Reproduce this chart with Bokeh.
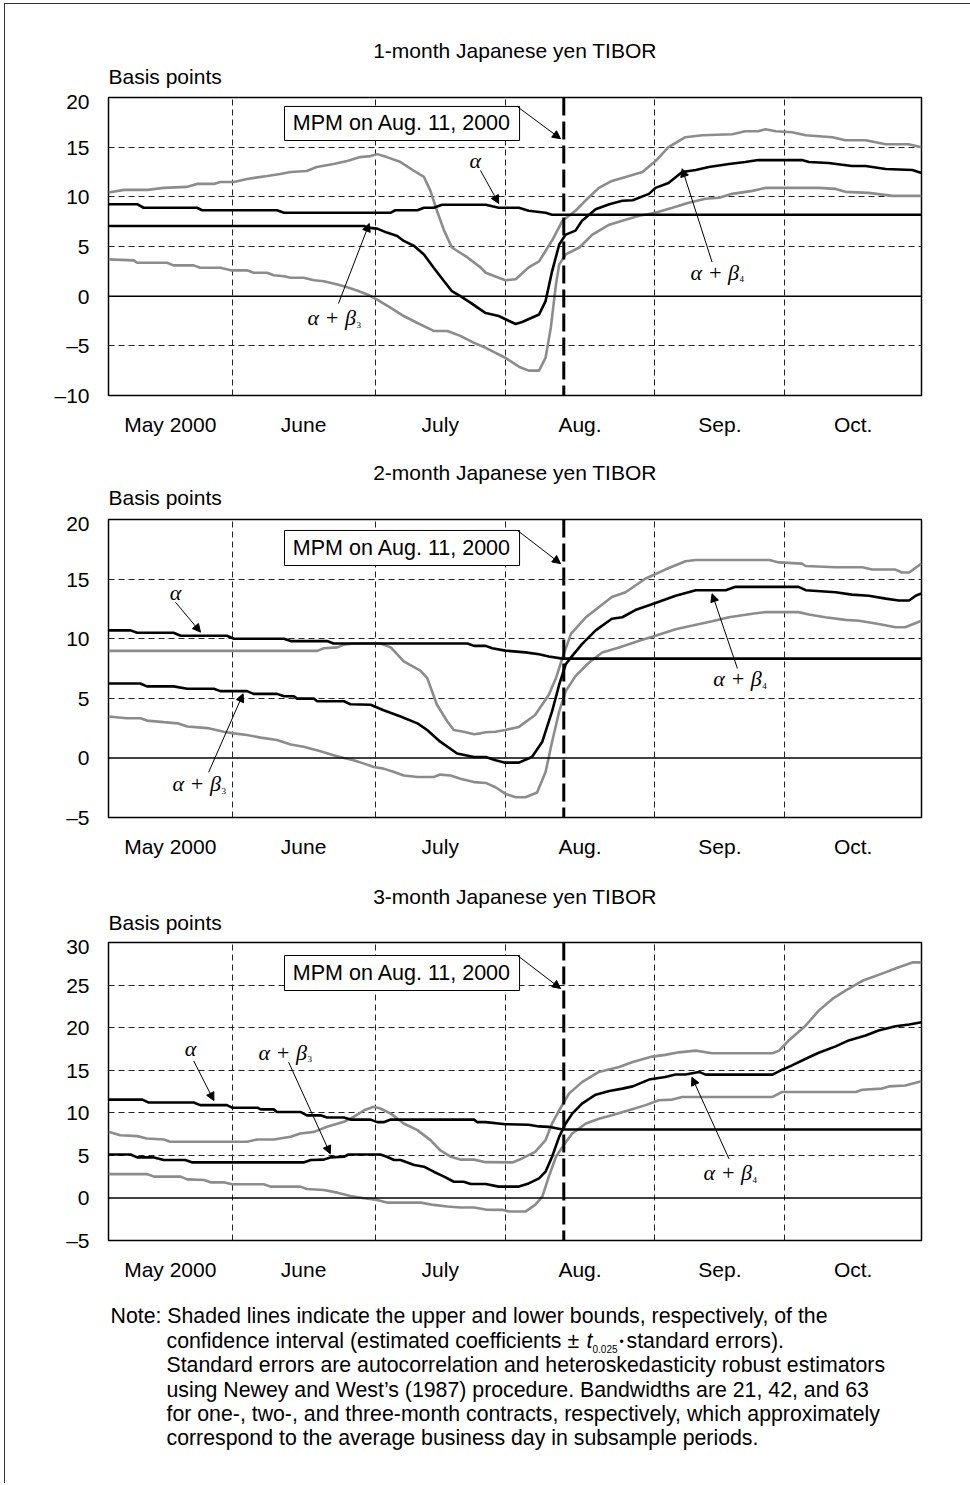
from bokeh.plotting import figure
from bokeh.models import FixedTicker, Span, Label, Arrow, NormalHead, BoxAnnotation, Range1d, Div
from bokeh.layouts import column
from bokeh.core.properties import value
from bokeh.embed import file_html
from bokeh.resources import INLINE

SANS = "Liberation Sans"
SERIF = "Liberation Serif"

# ---------------- data (x = business-day index from start of May 2000) ----------------
N_DAYS = 125
MONTH_EDGES = [19, 41, 61, 84, 104]
MONTH_MIDS = [9.5, 30, 51, 72.5, 94, 114.5]
MONTH_LABELS = ["May 2000", "June", "July", "Aug.", "Sep.", "Oct."]
MPM_DAY = 70

# Panel 1: 1-month TIBOR
P1_ALPHA_X = [0, 4.4, 5.4, 13.6, 14.4, 25.9, 27, 43.4, 44.1, 47.5, 48.5, 50, 51.3, 58, 60, 63.1, 64.6, 67.2, 68.2, 125]
P1_ALPHA_Y = [9.26, 9.26, 8.9, 8.9, 8.65, 8.65, 8.4, 8.4, 8.65, 8.65, 8.9, 8.9, 9.2, 9.2, 8.9, 8.9, 8.6, 8.4, 8.2, 8.2]
P1_AB_X = [0, 39.3, 39.8, 41.3, 42.8, 44.4, 45.4, 47, 48.5, 50, 51.6, 52.8, 54.1, 55.7, 57.2, 58, 60, 61.6, 62.6, 63.6,
           66.2, 67.2, 68.2, 69.3, 70.3, 71.8, 72.8, 74.9, 77, 79, 80.6, 83.1, 84.1, 86.1, 88.2, 90.3, 92.3, 95.4,
           97.9, 99.9, 106.6, 107.7, 110.7, 114.3, 116.4, 119.5, 123.6, 125]
P1_AB_Y = [7.07, 7.07, 6.9, 6.8, 6.4, 6.06, 5.56, 5.05, 4.2, 2.86, 1.5, 0.5, 0.0, -0.67, -1.35, -1.7, -2.0, -2.5, -2.8, -2.6,
           -1.85, -0.5, 2.5, 5.2, 6.2, 6.6, 7.6, 8.75, 9.26, 9.6, 9.66, 10.3, 10.9, 11.4, 12.5, 12.7, 13.0, 13.3,
           13.5, 13.7, 13.7, 13.5, 13.4, 13.1, 13.1, 12.8, 12.7, 12.4]
P1_UP_X = [0, 2.4, 6, 8.5, 12, 13.6, 16.2, 17.2, 19.3, 21.3, 24.4, 26.4, 28, 30.5, 32, 34.6, 36.7, 38.7, 40.3, 41.3,
           42.8, 44.9, 47, 48.5, 49.5, 50.5, 51.6, 52.8, 55.2, 57.2, 58, 61, 62.6, 64.6, 66.2, 68.2, 69.8, 71.8,
           73.3, 75.4, 77.4, 79.5, 82.1, 84.1, 86.1, 88.7, 91.3, 95.9, 97.9, 99.9, 101, 102.6, 105.1, 107.2, 111.3,
           113.3, 116.4, 119.5, 123, 125]
P1_UP_Y = [10.44, 10.7, 10.7, 10.9, 11.0, 11.3, 11.3, 11.5, 11.5, 11.8, 12.1, 12.3, 12.5, 12.6, 13.0, 13.3, 13.6, 14.0,
           14.1, 14.3, 14.0, 13.5, 12.6, 12.0, 10.6, 8.6, 6.6, 4.9, 3.9, 2.9, 2.36, 1.6, 1.7, 2.9, 3.5, 5.6, 7.6, 8.6,
           9.6, 10.9, 11.6, 12.0, 12.5, 13.6, 15.0, 16.0, 16.2, 16.3, 16.6, 16.6, 16.8, 16.6, 16.5, 16.2, 16.0,
           15.7, 15.7, 15.3, 15.3, 15.0]
P1_LO_X = [0, 3.9, 4.4, 9, 10, 13.1, 14.1, 17.2, 18.8, 21.3, 22.3, 24.4, 25.4, 27, 28, 30, 31.6, 33.1, 35.2, 36.7,
           38.2, 39.8, 41.3, 43.4, 45.4, 47.5, 50, 52.1, 54.1, 56.2, 58, 61, 63.1, 64.6, 66.2, 67.2, 68, 68.8, 69.3,
           70.3, 72.4, 74.4, 77, 79.5, 81.6, 84.1, 86.7, 89.2, 91.8, 93.9, 95.9, 99, 101, 104.1, 109.2, 111.8,
           113.3, 116.9, 120.5, 125]
P1_LO_Y = [3.7, 3.6, 3.37, 3.37, 3.1, 3.1, 2.86, 2.86, 2.6, 2.6, 2.36, 2.36, 2.1, 2.0, 1.85, 1.85, 1.6, 1.5, 1.18, 0.9,
           0.57, 0.17, -0.34, -1.18, -2.0, -2.7, -3.5, -3.5, -4.0, -4.7, -5.2, -6.2, -7.1, -7.5, -7.5, -6.2, -3.2,
           1.2, 3.2, 4.2, 4.9, 6.2, 7.2, 7.7, 8.1, 8.4, 8.9, 9.4, 9.8, 9.9, 10.3, 10.6, 10.9, 10.9, 10.9, 10.8,
           10.5, 10.4, 10.1, 10.1]

# Panel 2: 2-month TIBOR
P2_ALPHA_X = [0, 3.4, 4.4, 10, 11.1, 18.2, 19.3, 27, 28, 33.6, 34.6, 55.2, 56.2, 58, 59, 61, 64.1, 66.2, 67.7, 69.8, 125]
P2_ALPHA_Y = [10.7, 10.7, 10.5, 10.5, 10.25, 10.25, 10.0, 10.0, 9.8, 9.8, 9.6, 9.6, 9.4, 9.4, 9.2, 9.0, 8.85, 8.7, 8.5,
              8.33, 8.33]
P2_AB_X = [0, 4.9, 5.9, 10, 12.1, 16.2, 17.2, 21.3, 22.3, 25.9, 27, 28.5, 29, 31.6, 32.1, 36.2, 37.2, 40.3, 42.3, 44.9,
           47.5, 49, 51, 53.6, 56.2, 58, 59.5, 61, 63.1, 65.1, 66.7, 68.2, 69.3, 70.3, 71.3, 72.8, 74.9, 77.4, 79,
           81, 84.1, 87.2, 90.3, 94.9, 96.4, 106.1, 107.2, 111.8, 114.3, 116.9, 119.5, 121.5, 123.1, 124.1, 125]
P2_AB_Y = [6.24, 6.24, 6.0, 6.0, 5.8, 5.8, 5.6, 5.6, 5.37, 5.37, 5.17, 5.17, 4.97, 4.97, 4.75, 4.75, 4.5, 4.46, 4.0,
           3.47, 2.9, 2.34, 1.36, 0.37, 0.08, 0.08, -0.2, -0.4, -0.4, 0.08, 1.36, 3.9, 6.16, 7.85, 8.56, 9.55, 10.7,
           11.67, 11.8, 12.4, 13.0, 13.6, 14.07, 14.07, 14.35, 14.35, 14.07, 13.9, 13.7, 13.6, 13.36, 13.2, 13.2,
           13.6, 13.8]
P2_UP_X = [0, 32.1, 33.1, 35.2, 36.2, 37.7, 41.8, 43.4, 45.4, 48, 49, 50.5, 52.1, 53.1, 54.6, 56.2, 57.2, 58, 59.5, 61,
           63.1, 65.6, 67.7, 68.8, 69.8, 71.1, 73.4, 77.4, 79.5, 82.6, 85.6, 88.7, 90.3, 101.6, 103.1, 106.6, 107.2,
           111.8, 115.9, 117.4, 121, 122, 123.1, 125]
P2_UP_Y = [8.98, 8.98, 9.2, 9.27, 9.5, 9.6, 9.6, 9.27, 8.1, 7.3, 6.7, 4.46, 3.05, 2.34, 2.2, 1.98, 2.06, 2.15, 2.2,
           2.34, 2.6, 3.6, 5.3, 6.7, 8.4, 10.4, 11.8, 13.5, 13.9, 15.05, 15.8, 16.5, 16.6, 16.6, 16.4, 16.3, 16.1,
           16.0, 16.0, 15.8, 15.8, 15.55, 15.55, 16.3]
P2_LO_X = [0, 2.8, 4.9, 5.9, 8.5, 10.6, 12.1, 15.2, 17.7, 19.3, 21.3, 23.4, 25.9, 28, 30, 32.6, 34.6, 36.2, 37.7, 39.3,
           40.8, 42.3, 43.9, 45.4, 47.5, 50, 51, 52.6, 54.1, 56.2, 58, 59.5, 61, 62.6, 64.1, 65.9, 67.2, 68.2, 69.3,
           70.3, 71.8, 73.9, 75.9, 78.5, 81.6, 84.1, 87.2, 89.8, 92.8, 95.4, 99, 101, 106.1, 107.7, 110.2, 113.3,
           115.4, 118.4, 121, 122.5, 125]
P2_LO_Y = [3.47, 3.33, 3.33, 3.13, 3.0, 2.9, 2.63, 2.5, 2.2, 2.06, 1.92, 1.7, 1.5, 1.13, 0.93, 0.56, 0.23, 0.0, -0.2,
           -0.48, -0.76, -0.9, -1.19, -1.47, -1.6, -1.6, -1.4, -1.47, -1.75, -2.03, -2.1, -2.46, -3.0, -3.3, -3.3,
           -2.9, -1.19, 1.36, 3.9, 5.6, 6.86, 8.0, 8.84, 9.27, 9.83, 10.25, 10.8, 11.1, 11.47, 11.8, 12.1, 12.23,
           12.23, 12.03, 11.8, 11.58, 11.5, 11.24, 10.96, 10.96, 11.5]

# Panel 3: 3-month TIBOR
P3_ALPHA_X = [0, 5.2, 6.2, 13.1, 14.1, 18.2, 19, 22.9, 23.4, 25.4, 25.9, 29.5, 30.5, 32.6, 33.6, 36.2, 37.2, 40.3,
              41.3, 42.3, 43.4, 56.2, 56.7, 58, 61, 64.6, 66.2, 67.7, 69.8, 125]
P3_ALPHA_Y = [11.55, 11.55, 11.2, 11.2, 10.9, 10.9, 10.6, 10.6, 10.4, 10.4, 10.1, 10.1, 9.7, 9.7, 9.44, 9.44, 9.2, 9.2,
              8.9, 8.9, 9.2, 9.2, 8.9, 8.9, 8.66, 8.6, 8.4, 8.35, 8.04, 8.04]
P3_AB_X = [0, 3.4, 4.4, 7, 8.5, 11.8, 12.9, 30, 31.1, 33.1, 34.1, 36.2, 36.9, 41.8, 42.8, 43.9, 44.9, 47, 48.5, 50,
           51.6, 53.1, 54.6, 55.7, 58, 60, 63.1, 64.6, 66.2, 67.2, 68.2, 69.3, 70.3, 71.3, 72.8, 74.9, 77, 79, 80.6,
           83.1, 85.6, 87.2, 88.7, 90.8, 91.8, 102.1, 103.6, 105.1, 107.2, 109.2, 111.8, 113.8, 116.4, 118.4, 121,
           123.1, 125]
P3_AB_Y = [5.1, 5.1, 4.76, 4.76, 4.45, 4.45, 4.17, 4.17, 4.45, 4.5, 4.76, 4.84, 5.1, 5.1, 4.84, 4.45, 4.45, 3.86, 3.67,
           3.08, 2.5, 1.9, 1.9, 1.64, 1.64, 1.33, 1.33, 1.7, 2.3, 3.08, 4.84, 7.2, 8.74, 9.9, 11.08, 12.13, 12.56,
           12.84, 13.1, 13.9, 14.2, 14.5, 14.5, 14.8, 14.48, 14.48, 15.06, 15.57, 16.35, 17.05, 17.8, 18.5, 19.08,
           19.66, 20.17, 20.37, 20.64]
P3_UP_X = [0, 1.8, 4.4, 5.9, 8.5, 9.5, 21.3, 22.9, 25.4, 28, 29.5, 31.6, 33.6, 36.2, 37.7, 39.3, 40.8, 41.8, 43.4,
           45.4, 47.5, 49.5, 51, 52.6, 54.1, 56.2, 58, 62.1, 63.6, 65.6, 67.2, 68.2, 69.3, 70.8, 72.8, 75.4, 78.5,
           80.6, 83.6, 85.6, 87.7, 90.3, 92.8, 102.1, 103.1, 104.6, 107.2, 109.2, 111.3, 113.3, 115.9, 118.4, 121.5,
           123.6, 125]
P3_UP_Y = [7.76, 7.37, 7.26, 6.98, 6.87, 6.6, 6.6, 6.87, 6.87, 7.18, 7.57, 7.76, 8.35, 8.94, 9.52, 10.3, 10.7, 10.5,
           9.9, 8.74, 7.96, 6.79, 5.6, 4.84, 4.5, 4.5, 4.2, 4.17, 4.64, 5.4, 6.8, 8.74, 10.3, 12.25, 13.6, 14.8,
           15.37, 15.96, 16.6, 16.8, 17.1, 17.3, 17.0, 17.0, 17.3, 18.5, 20.25, 22.0, 23.37, 24.35, 25.5, 26.2,
           27.1, 27.66, 27.66]
P3_LO_X = [0, 5.9, 7, 11.1, 12.1, 14.7, 15.7, 17.7, 19, 23.9, 24.9, 29.5, 30.5, 33.1, 35.2, 37.2, 39.3, 41.3, 42.8,
           48, 50, 52.1, 54.1, 56.2, 58, 60.5, 61.6, 64.1, 65.6, 66.7, 67.7, 68.8, 69.8, 71.3, 73.4, 75.4, 77.4, 80,
           82.6, 84.6, 86.7, 88.2, 102.1, 103.6, 114.9, 115.9, 118.9, 120, 122.5, 125]
P3_LO_Y = [2.8, 2.8, 2.5, 2.5, 2.18, 2.1, 1.83, 1.83, 1.6, 1.6, 1.33, 1.33, 1.05, 0.94, 0.62, 0.23, -0.04, -0.23, -0.55,
           -0.55, -0.82, -1.0, -1.13, -1.13, -1.37, -1.4, -1.6, -1.6, -0.82, 0.16, 2.5, 4.84, 6.0, 7.57, 8.74, 9.3,
           9.7, 10.3, 10.9, 11.47, 11.55, 11.86, 11.86, 12.45, 12.45, 12.7, 12.84, 13.1, 13.2, 13.7]

TITLES = ["1-month Japanese yen TIBOR", "2-month Japanese yen TIBOR", "3-month Japanese yen TIBOR"]
Y_TICKS = [[-10, -5, 0, 5, 10, 15, 20], [-5, 0, 5, 10, 15, 20], [-5, 0, 5, 10, 15, 20, 25, 30]]
MPM_TEXT = "MPM on Aug. 11, 2000"
NOTE_LINES = [
    "Note: Shaded lines indicate the upper and lower bounds, respectively, of the",
    "confidence interval (estimated coefficients \u00b1 ",
    "Standard errors are autocorrelation and heteroskedasticity robust estimators",
    "using Newey and West\u2019s (1987) procedure. Bandwidths are 21, 42, and 63",
    "for one-, two-, and three-month contracts, respectively, which approximately",
    "correspond to the average business day in subsample periods.",
]
NOTE_T = "t"
NOTE_SUB = "0.025"
NOTE_DOT = "\u2022"
NOTE_TAIL = "standard errors)."

# ---------------- layout geometry (page origin is the top-left corner) ----------------
W = 970
FRAME_L, FRAME_R = 108, 921
TOP_PAD = 8  # top border kept in every figure of the column
HEAD = [  # header strip height, title centre, "Basis points" centre (px from strip top)
    dict(h=89, t=50.4, b=76.0),
    dict(h=71, t=32.0, b=57.0),
    dict(h=72, t=34.0, b=60.0),
]
LAYOUT = [
    dict(h=351, bottom=45,
         box=(27.06, 63.2, 15.67, 19.1), box_y=17.39, mpm_arrow=(62.88, 19.07, 69.5, 15.85),
         a_lab=(56.4, 13.66), a_arr=(57.2, 12.65, 60.0, 9.33),
         b3_lab=(30.6, -2.15), b3_arr=(35.36, -0.74, 40.1, 7.32),
         b4_lab=(89.5, 2.4), b4_arr=(92.8, 3.43, 88.2, 12.83)),
    dict(h=351, bottom=45,
         box=(27.06, 63.2, 16.14, 19.08), box_y=17.6, mpm_arrow=(62.88, 19.08, 69.5, 16.3),
         a_lab=(10.3, 13.9), a_arr=(10.3, 13.06, 14.15, 10.55),
         b3_lab=(9.84, -2.15), b3_arr=(15.4, -1.2, 20.7, 5.38),
         b4_lab=(93.0, 6.66), b4_arr=(96.7, 7.5, 92.8, 13.77)),
    dict(h=356, bottom=50,
         box=(27.06, 63.2, 24.36, 28.47), box_y=26.4, mpm_arrow=(62.88, 28.47, 69.5, 24.6),
         a_lab=(12.6, 17.55), a_arr=(13.1, 16.1, 16.2, 11.43),
         b3_lab=(23.06, 17.1), b3_arr=(27.7, 15.94, 34.1, 5.18),
         b4_lab=(91.5, 2.98), b4_arr=(95.4, 4.6, 89.7, 14.18)),
]
SERIES = [
    (P1_UP_X, P1_UP_Y, P1_LO_X, P1_LO_Y, P1_ALPHA_X, P1_ALPHA_Y, P1_AB_X, P1_AB_Y),
    (P2_UP_X, P2_UP_Y, P2_LO_X, P2_LO_Y, P2_ALPHA_X, P2_ALPHA_Y, P2_AB_X, P2_AB_Y),
    (P3_UP_X, P3_UP_Y, P3_LO_X, P3_LO_Y, P3_ALPHA_X, P3_ALPHA_Y, P3_AB_X, P3_AB_Y),
]

GRAY = "#8c8c8c"
FS = "21px"
NFS = "21.3px"


def blank_fig(height):
    # frame aligned with the panel frames (page x 108..921); coordinates in canvas pixels
    p = figure(width=W, height=height, x_range=Range1d(FRAME_L, FRAME_R), y_range=Range1d(height, TOP_PAD),
               output_backend="svg", toolbar_location=None, x_axis_location=None, y_axis_location=None,
               min_border_left=FRAME_L, min_border_right=W - FRAME_R, min_border_top=TOP_PAD,
               min_border_bottom=0)
    p.grid.visible = False
    p.outline_line_color = None
    p.background_fill_color = "white"
    p.border_fill_color = "white"
    return p


def put_text(p, x, y, s, size=FS, align="left", style="normal", font=SANS):
    p.text(x=[x], y=[y], text=[s], text_font=value(font), text_font_size=value(size),
           text_font_style=value(style), text_align=value(align), text_baseline=value("middle"),
           text_color="black")


def header(i):
    H = HEAD[i]
    p = blank_fig(H["h"])
    put_text(p, (FRAME_L + FRAME_R) / 2, H["t"], TITLES[i], align="center")
    put_text(p, FRAME_L, H["b"], "Basis points")
    return p


def arrow(p, xs, ys, xe, ye):
    p.add_layout(Arrow(end=NormalHead(size=8, line_color="black", fill_color="black", line_width=1),
                       x_start=xs, y_start=ys, x_end=xe, y_end=ye, line_color="black", line_width=1))


def greek(p, x, y, sub):
    p.add_layout(Label(x=x, y=y, text="\u03b1 + \u03b2", text_font=SERIF, text_font_style="italic",
                       text_font_size="22px", text_align="left", text_baseline="middle", text_color="black"))
    p.add_layout(Label(x=x, y=y, x_offset=49, y_offset=-7, text=sub, text_font=SERIF,
                       text_font_size="9px", text_align="left", text_baseline="middle", text_color="black"))


def make_panel(i):
    L = LAYOUT[i]
    ticks = Y_TICKS[i]
    lo, hi = ticks[0], ticks[-1]
    p = figure(width=W, height=L["h"], x_range=Range1d(0, N_DAYS), y_range=Range1d(lo, hi),
               output_backend="svg", toolbar_location=None,
               min_border_left=FRAME_L, min_border_right=W - FRAME_R,
               min_border_top=TOP_PAD, min_border_bottom=L["bottom"])
    p.background_fill_color = "white"
    p.border_fill_color = "white"
    p.outline_line_color = "black"
    p.outline_line_width = 1.5
    p.outline_line_alpha = 1

    p.xaxis.ticker = FixedTicker(ticks=MONTH_MIDS)
    p.xaxis.major_label_overrides = {m: t for m, t in zip(MONTH_MIDS, MONTH_LABELS)}
    p.xaxis.major_label_standoff = 11
    p.yaxis.ticker = FixedTicker(ticks=ticks)
    p.yaxis.major_label_overrides = {t: ("\u2013" + str(-t) if t < 0 else str(t)) for t in ticks}
    p.yaxis.major_label_standoff = 13
    for ax in (p.xaxis, p.yaxis):
        ax.axis_line_color = None
        ax.major_tick_line_color = None
        ax.minor_tick_line_color = None
        ax.major_label_text_font = SANS
        ax.major_label_text_font_size = FS
        ax.major_label_text_color = "black"

    p.xgrid.ticker = FixedTicker(ticks=MONTH_EDGES)
    p.ygrid.ticker = FixedTicker(ticks=[t for t in ticks if t not in (0, lo, hi)])
    for g in (p.xgrid, p.ygrid):
        g.grid_line_color = "#222222"
        g.grid_line_width = 1
        g.grid_line_dash = "6 4"

    p.add_layout(Span(location=0, dimension="width", line_color="black", line_width=1.5))

    ux, uy, lx, ly, ax_, ay, bx, by = SERIES[i]
    p.line(ux, uy, line_color=GRAY, line_width=2.6)
    p.line(lx, ly, line_color=GRAY, line_width=2.6)
    p.line(ax_, ay, line_color="black", line_width=2.6)
    p.line(bx, by, line_color="black", line_width=2.6)

    p.add_layout(Span(location=MPM_DAY, dimension="height", line_color="black", line_width=3, line_dash="18 6"))

    bl, br, bb, bt = L["box"]
    p.add_layout(BoxAnnotation(left=bl, right=br, bottom=bb, top=bt, fill_color="white", fill_alpha=1,
                               line_color="black", line_width=1, line_alpha=1))
    p.add_layout(Label(x=(bl + br) / 2, y=L["box_y"], text=MPM_TEXT, text_font=SANS, text_font_size="21.5px",
                       text_align="center", text_baseline="middle", text_color="black"))
    arrow(p, *L["mpm_arrow"])

    p.add_layout(Label(x=L["a_lab"][0], y=L["a_lab"][1], text="\u03b1", text_font=SERIF,
                       text_font_style="italic", text_font_size="22px", text_align="center",
                       text_baseline="middle", text_color="black"))
    arrow(p, *L["a_arr"])
    greek(p, L["b3_lab"][0], L["b3_lab"][1], "3")
    arrow(p, *L["b3_arr"])
    greek(p, L["b4_lab"][0], L["b4_lab"][1], "4")
    arrow(p, *L["b4_arr"])
    return p


def note_fig():
    p = blank_fig(175)
    mid = [25.6, 50.6, 74.6, 99.6, 123.6, 147.6]
    for k, s in enumerate(NOTE_LINES):
        put_text(p, 110 if k == 0 else 166, mid[k], s, size=NFS)
    put_text(p, 586, mid[1], NOTE_T, size=NFS, style="italic")
    put_text(p, 592, mid[1] + 8, NOTE_SUB, size="10px")
    put_text(p, 619, mid[1] + 1, NOTE_DOT, size="12px")
    put_text(p, 626, mid[1], NOTE_TAIL, size=NFS)
    return p


frame = Div(width=W, height=1, text=(
    '<div style="position:absolute;left:-1px;top:-1467px;width:966px;height:1480px;'
    'border-top:1.5px solid #333;border-left:1.5px solid #333;pointer-events:none;"></div>'))

children = []
for i in range(3):
    children.append(header(i))
    children.append(make_panel(i))
children.append(note_fig())
children.append(frame)

layout = column(*children, spacing=0)
open("out.html", "w").write(file_html(layout, INLINE))
